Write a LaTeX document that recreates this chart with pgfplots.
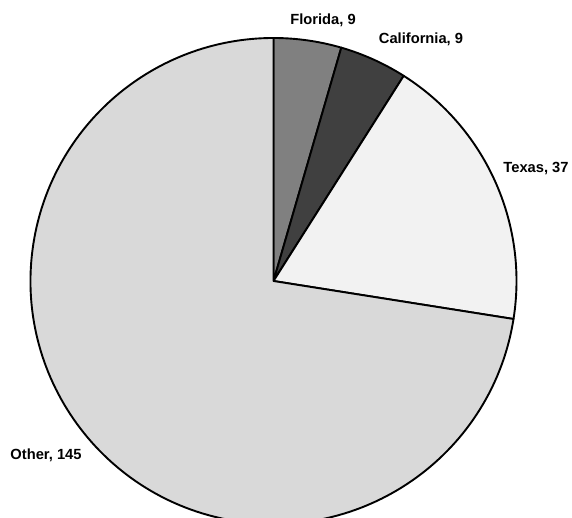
\documentclass[border=0pt]{standalone}
\usepackage{pgfplots}
\pgfplotsset{compat=1.18}
\usepackage{pgfplotstable}
\usepackage{fontspec}
\setmainfont{Liberation Sans}

% slice values, label anchor positions (axis units) and fill shade (percent black)
\pgfplotstableread{
state      value lx    ly   shade
Florida    9     323   498  50
California 9     421   479  75
Texas      37    536   349  5
Other      145   46    63   15
}\piedata

% centre and radius of the pie, in axis units (1 unit = 1pt)
\def\cx{273.5}
\def\cy{237}
\def\rad{243}

\begin{document}
\begin{tikzpicture}
\pgfplotstablegetrowsof{\piedata}
\pgfmathtruncatemacro{\lastrow}{\pgfplotsretval-1}
% total of all slices
\gdef\pietotal{0}
\foreach \i in {0,...,\lastrow}{
  \pgfplotstablegetelem{\i}{value}\of{\piedata}
  \pgfmathsetmacro{\t}{\pietotal+\pgfplotsretval}
  \xdef\pietotal{\t}
}
% start/end angle of every slice, clockwise from 12 o'clock
\gdef\piecum{0}
\foreach \i in {0,...,\lastrow}{
  \pgfplotstablegetelem{\i}{value}\of{\piedata}\let\v\pgfplotsretval
  \pgfplotstablegetelem{\i}{state}\of{\piedata}\let\s\pgfplotsretval
  \pgfplotstablegetelem{\i}{lx}\of{\piedata}\let\lx\pgfplotsretval
  \pgfplotstablegetelem{\i}{ly}\of{\piedata}\let\ly\pgfplotsretval
  \pgfplotstablegetelem{\i}{shade}\of{\piedata}\let\g\pgfplotsretval
  \pgfmathsetmacro{\a}{90-360*(\piecum/\pietotal)}
  \pgfmathsetmacro{\b}{90-360*((\piecum+\v)/\pietotal)}
  \pgfmathsetmacro{\c}{\piecum+\v}
  \xdef\piecum{\c}
  \expandafter\xdef\csname pieA\i\endcsname{\a}
  \expandafter\xdef\csname pieB\i\endcsname{\b}
  \expandafter\xdef\csname pieG\i\endcsname{\g}
  \expandafter\xdef\csname pieX\i\endcsname{\lx}
  \expandafter\xdef\csname pieY\i\endcsname{\ly}
  \expandafter\xdef\csname pieT\i\endcsname{\s, \v}
}
\begin{axis}[
  scale only axis,
  width=572pt, height=518pt,
  xmin=0, xmax=572, ymin=0, ymax=518,
  enlargelimits=false,
  hide axis,
  clip=true,
]
\pgfplotsinvokeforeach{0,...,3}{
  \filldraw[fill=black!\csname pieG#1\endcsname, draw=black, line width=1.9pt, line join=round]
    (axis cs:\cx,\cy) -- ([shift={(\csname pieA#1\endcsname:\rad pt)}]axis cs:\cx,\cy)
    arc[start angle=\csname pieA#1\endcsname, end angle=\csname pieB#1\endcsname, radius=\rad pt]
    -- cycle;
  \node[font=\bfseries\fontsize{14.7}{17}\selectfont, inner sep=0pt]
    at (axis cs:\csname pieX#1\endcsname,\csname pieY#1\endcsname) {\csname pieT#1\endcsname};
}
\end{axis}
% the page is exactly the plotting area; the pie runs off its lower edge
\pgfresetboundingbox
\useasboundingbox (current axis.south west) rectangle (current axis.north east);
\end{tikzpicture}
\end{document}
